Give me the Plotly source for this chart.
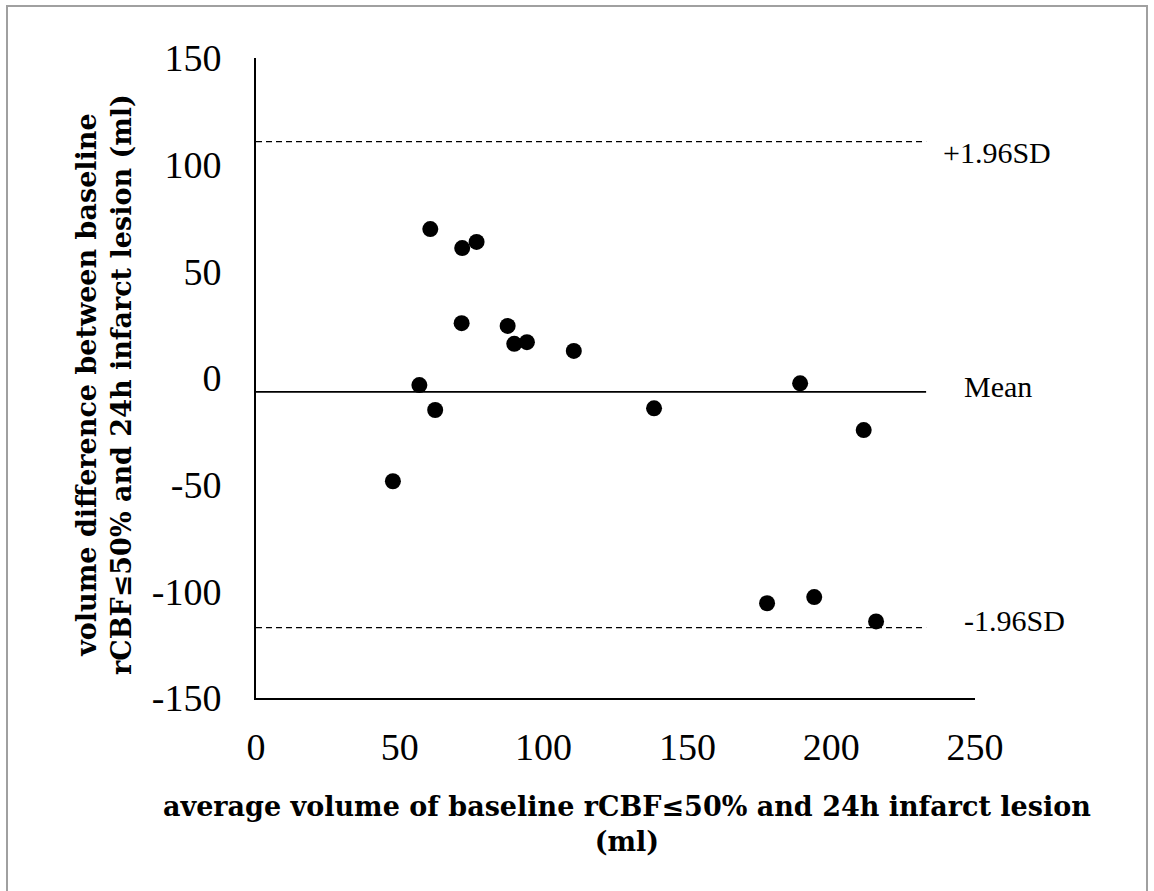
import plotly.graph_objects as go

# Bland-Altman data
avg_volume = [60.6, 71.7, 76.7, 71.5, 87.5, 89.8, 94.2, 110.5, 56.8, 62.3,
              47.6, 138.4, 189.2, 211.3, 177.7, 194.1, 215.6]
vol_diff = [69.8, 60.9, 63.8, 25.7, 24.4, 16.0, 16.8, 12.7, -3.3, -15.0,
            -48.4, -14.2, -2.5, -24.4, -105.6, -102.7, -114.1]

mean_diff = -6.5
upper_loa = 110.8
lower_loa = -117.0
line_x = [0, 233]

x_ticks = [0, 50, 100, 150, 200, 250]
x_tick_text = ["0", "50", "100", "150", "200", "250"]
y_ticks = [-150, -100, -50, 0, 50, 100, 150]
y_tick_text = ["-150", "-100", "-50", "0", "50", "100", "150"]

serif = "Liberation Serif"
title_font = "DejaVu Serif"

fig = go.Figure()
fig.add_trace(go.Scatter(x=line_x, y=[upper_loa, upper_loa], mode="lines",
                         line=dict(color="black", width=1.4, dash="6px,4px"),
                         hoverinfo="skip"))
fig.add_trace(go.Scatter(x=line_x, y=[mean_diff, mean_diff], mode="lines",
                         line=dict(color="black", width=1.8), hoverinfo="skip"))
fig.add_trace(go.Scatter(x=line_x, y=[lower_loa, lower_loa], mode="lines",
                         line=dict(color="black", width=1.4, dash="6px,4px"),
                         hoverinfo="skip"))
fig.add_trace(go.Scatter(x=avg_volume, y=vol_diff, mode="markers",
                         marker=dict(color="black", size=16, line=dict(width=0))))

L, R, T, B = 256, 179, 58, 193
W, H = 1154, 891
pw, ph = W - L - R, H - T - B

def px(xp):
    return (xp - L) / pw

def py(yp):
    return (H - B - yp) / ph

fig.update_layout(
    width=W, height=H,
    margin=dict(l=L, r=R, t=T, b=B, pad=0),
    paper_bgcolor="white", plot_bgcolor="white",
    showlegend=False,
    font=dict(family=serif, color="black"),
    xaxis=dict(range=[0, 250], tickvals=x_ticks, ticktext=x_tick_text,
               showgrid=False, zeroline=False,
               showline=True, linecolor="black", linewidth=2, ticks="",
               tickfont=dict(size=38, family=serif), ticklabelstandoff=14),
    yaxis=dict(range=[-150, 150], tickvals=y_ticks, ticktext=y_tick_text,
               showgrid=False, zeroline=False,
               showline=True, linecolor="black", linewidth=2, ticks="",
               tickfont=dict(size=38, family=serif), ticklabelstandoff=25),
    shapes=[dict(type="rect", xref="paper", yref="paper",
                 x0=px(7), x1=px(1147), y0=py(6), y1=py(900),
                 line=dict(color="#a0a0a0", width=2), fillcolor="rgba(0,0,0,0)",
                 layer="below")],
    annotations=[
        dict(text="+1.96SD", xref="paper", yref="paper", x=px(941), y=py(152),
             xanchor="left", yanchor="middle", showarrow=False,
             font=dict(size=30, family=serif)),
        dict(text="Mean", xref="paper", yref="paper", x=px(962), y=py(386),
             xanchor="left", yanchor="middle", showarrow=False,
             font=dict(size=30, family=serif)),
        dict(text="-1.96SD", xref="paper", yref="paper", x=px(962), y=py(620),
             xanchor="left", yanchor="middle", showarrow=False,
             font=dict(size=30, family=serif)),
        dict(text="<b>average volume of baseline rCBF≤50% and 24h infarct lesion</b><br><b>(ml)</b>",
             xref="paper", yref="paper", x=px(627), y=py(824),
             xanchor="center", yanchor="middle", showarrow=False,
             font=dict(size=27, family=title_font)),
        dict(text="<b>volume difference between baseline</b><br><b>rCBF≤50% and 24h infarct lesion (ml)</b>",
             xref="paper", yref="paper", x=px(104), y=py(385), textangle=-90,
             xanchor="center", yanchor="middle", showarrow=False,
             font=dict(size=27, family=title_font)),
    ],
)

fig.write_html("out.html")
